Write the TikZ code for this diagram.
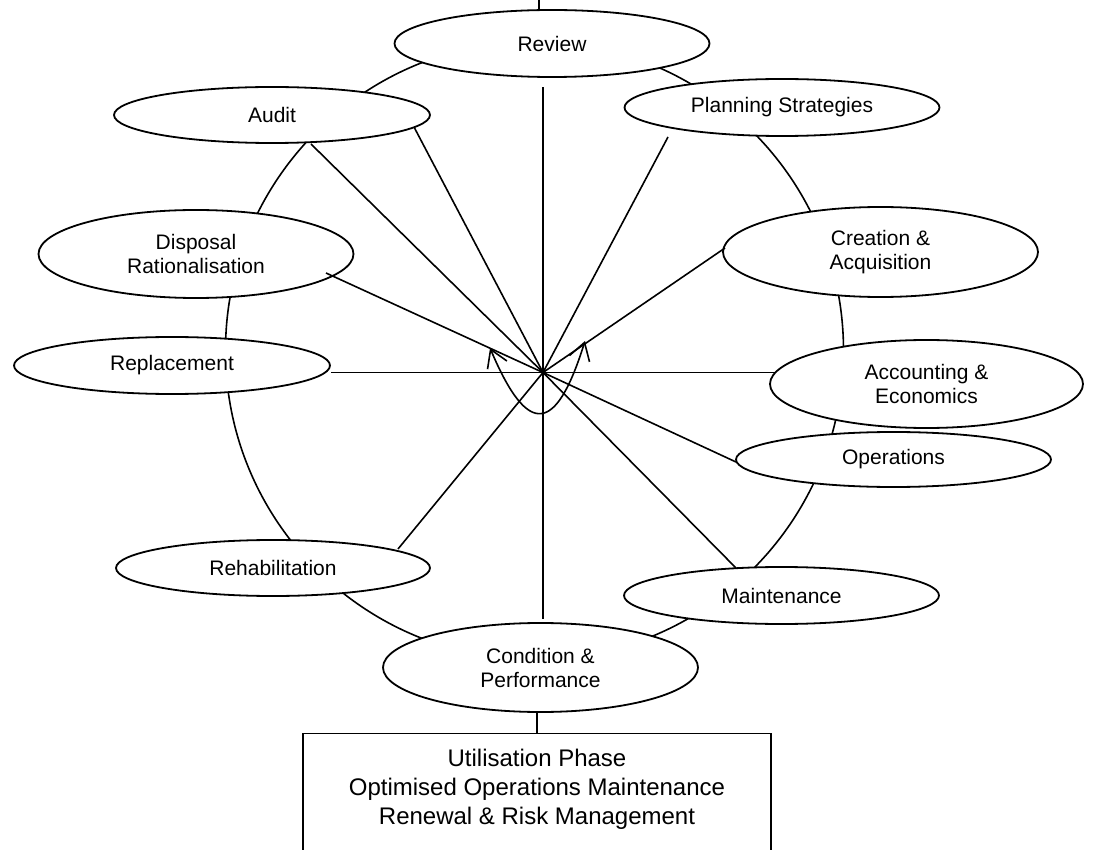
\documentclass[tikz,border=0pt]{standalone}
\usepackage{fontspec}
\setmainfont{Liberation Sans}
\usetikzlibrary{shapes.geometric,arrows.meta}
\begin{document}
\begin{tikzpicture}[x=1pt,y=-1pt,
  bub/.style={ellipse, draw, line width=1.8pt, fill=white, inner sep=0pt, align=center,
    font=\fontsize{21}{24}\selectfont},
  spoke/.style={line width=1.6pt},
  ringline/.style={draw, line width=1.6pt},
  barb/.style={{Straight Barb[length=17pt,width=21pt]}-{Straight Barb[length=17pt,width=21pt]}},
]
\clip (0,0) rectangle (1093,850);
% background ring
\node[circle, ringline, minimum size=618pt, inner sep=0pt] (ring) at (534.5,350.5) {};
% bubbles
\node[bub, minimum width=315pt, minimum height=67pt] (review) at (552,43.5) {Review};
\node[bub, minimum width=316pt, minimum height=56pt] (audit) at (272,115) {Audit};
\node[bub, minimum width=315pt, minimum height=57pt] (planning) at (782,107.5) {Planning Strategies};
\node[bub, minimum width=315pt, minimum height=88pt] (disposal) at (196,254) {Disposal\\Rationalisation};
\node[bub, minimum width=315pt, minimum height=90pt] (creation) at (880.5,252) {Creation \&\\Acquisition};
\node[bub, minimum width=316pt, minimum height=57pt] (replacement) at (172,365.5) {Replacement};
\node[bub, minimum width=313pt, minimum height=88pt] (accounting) at (926.5,384) {Accounting \&\\Economics};
\node[bub, minimum width=315pt, minimum height=55pt] (operations) at (893.5,459.5) {Operations};
\node[bub, minimum width=314pt, minimum height=56pt] (rehab) at (273,568) {Rehabilitation};
\node[bub, minimum width=315pt, minimum height=57pt] (maintenance) at (781.5,595.5) {Maintenance};
\node[bub, minimum width=315pt, minimum height=89pt] (condition) at (540.5,667.5) {Condition \&\\Performance};
% bottom box
\node[draw, line width=1.8pt, minimum width=468pt, minimum height=160pt, anchor=north, inner sep=0pt] (box) at (537,732.5) {};
\node[align=center, font=\fontsize{24}{29}\selectfont] (boxtext) at (537,789)
  {Utilisation Phase\\Optimised Operations Maintenance\\Renewal \& Risk Management};
% hub and spoke ends
\coordinate (hub) at (543,372.5);
\coordinate (sreview) at (543,87);
\coordinate (saudita) at (311,144);
\coordinate (sauditb) at (414,127);
\coordinate (sdisposal) at (326,273);
\coordinate (sreplace) at (331,372.5);
\coordinate (srehab) at (398,549);
\coordinate (scond) at (543,619);
\coordinate (smaint) at (736,568);
\coordinate (soper) at (736,462);
\coordinate (sacc) at (775,372.5);
\coordinate (screat) at (725,248);
\coordinate (splan) at (668,137);
\foreach \e in {sreview,saudita,sauditb,sdisposal,sreplace,srehab,scond,smaint,soper,sacc,screat,splan}
  \draw[spoke] (hub) -- (\e);
% loop arrow
\coordinate (la) at (490,348);
\coordinate (ra) at (585,341);
\draw[spoke, barb] (la) .. controls (528,438) and (556,434) .. (ra);
% top tick and link to box
\coordinate (toptick) at (539,0);
\draw[spoke] (toptick) -- (539,10);
\draw[spoke] (box.north) -- (box.north |- condition.south);
\end{tikzpicture}
\end{document}
